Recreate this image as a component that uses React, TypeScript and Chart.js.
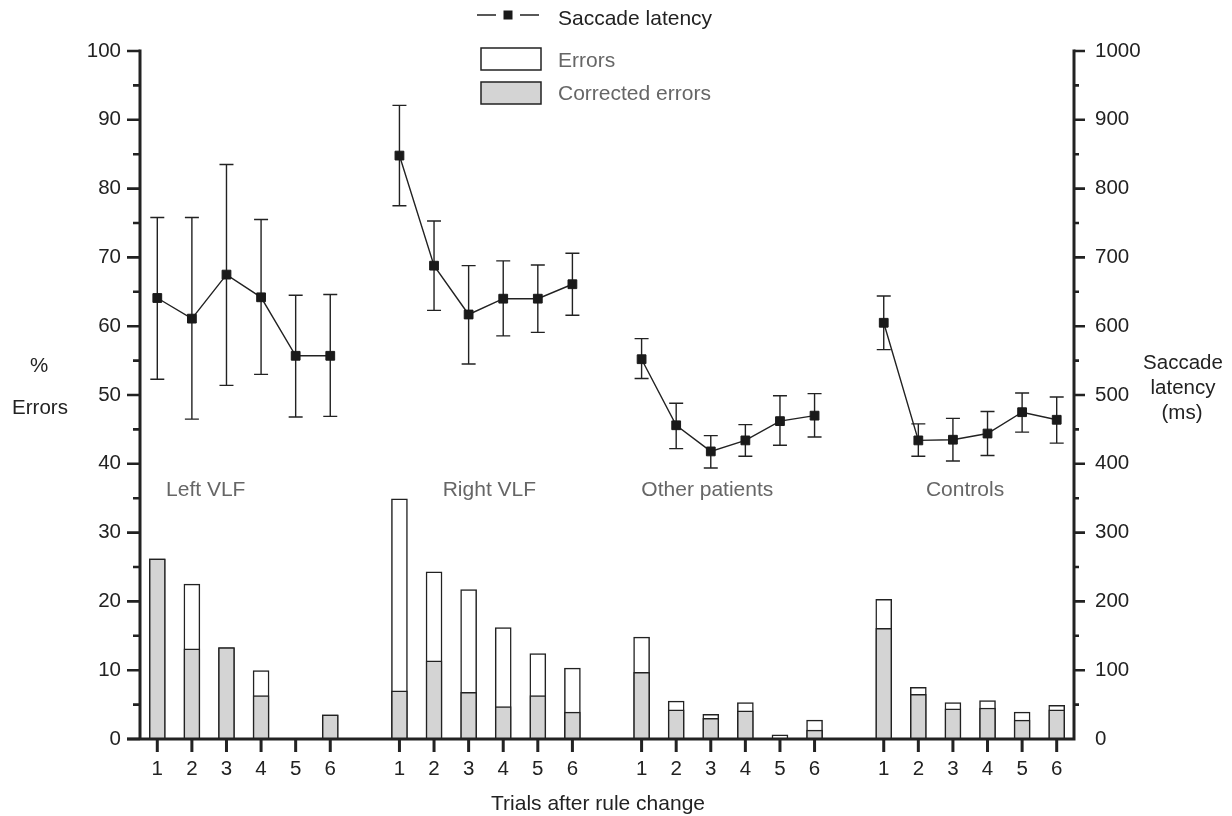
import React, { useEffect, useRef } from 'react';
import { Chart, registerables } from 'chart.js';

Chart.register(...registerables);

// ---- data ----
const groupNames = ['Left VLF', 'Right VLF', 'Other patients', 'Controls'];
const trialLabels = ['1', '2', '3', '4', '5', '6'];

const errorsLeft = [26.2, 22.5, 13.3, 9.95, 0, 3.5];
const errorsRight = [34.9, 24.3, 21.7, 16.2, 12.4, 10.3];
const errorsOther = [14.8, 5.5, 3.6, 5.3, 0.6, 2.75];
const errorsControls = [20.3, 7.5, 5.3, 5.6, 3.9, 4.9];

const correctedLeft = [26.2, 13.1, 13.3, 6.3, 0, 3.5];
const correctedRight = [7.0, 11.35, 6.8, 4.7, 6.3, 3.9];
const correctedOther = [9.7, 4.25, 3.0, 4.1, 0, 1.3];
const correctedControls = [16.1, 6.5, 4.4, 4.5, 2.75, 4.25];

const latencyLeft = [641, 611, 675, 642, 557, 557];
const latencyRight = [848, 688, 617, 640, 640, 661];
const latencyOther = [552, 456, 418, 434, 462, 470];
const latencyControls = [605, 434, 435, 444, 475, 464];

const latencyHighLeft = [758, 758, 835, 755, 645, 646];
const latencyHighRight = [921, 753, 688, 695, 689, 706];
const latencyHighOther = [582, 488, 441, 457, 499, 502];
const latencyHighControls = [644, 458, 466, 476, 503, 497];

const latencyLowLeft = [523, 465, 514, 530, 468, 469];
const latencyLowRight = [775, 623, 545, 586, 591, 616];
const latencyLowOther = [524, 422, 394, 411, 427, 439];
const latencyLowControls = [566, 411, 404, 412, 446, 430];

const leftTicks = [0, 10, 20, 30, 40, 50, 60, 70, 80, 90, 100];
const rightTicks = [0, 100, 200, 300, 400, 500, 600, 700, 800, 900, 1000];

// ---- helpers ----
function joinGroups<T>(groups: T[][], gap: T): T[] {
  const out: T[] = [];
  groups.forEach((g, i) => {
    if (i > 0) out.push(gap);
    out.push(...g);
  });
  return out;
}

const labels = joinGroups([trialLabels, trialLabels, trialLabels, trialLabels], '');
const errorsAll = joinGroups<number | null>([errorsLeft, errorsRight, errorsOther, errorsControls], null);
const correctedAll = joinGroups<number | null>([correctedLeft, correctedRight, correctedOther, correctedControls], null);
const latencyAll = joinGroups<number | null>([latencyLeft, latencyRight, latencyOther, latencyControls], null);
const latencyHighAll = joinGroups<number | null>([latencyHighLeft, latencyHighRight, latencyHighOther, latencyHighControls], null);
const latencyLowAll = joinGroups<number | null>([latencyLowLeft, latencyLowRight, latencyLowOther, latencyLowControls], null);

// annotation placement (category units / % units)
const groupLabelX = [1.4, 9.6, 15.9, 23.35];
const groupLabelY = 36.2;

const FONT = "'Liberation Sans', Arial, Helvetica, sans-serif";
const INK = '#222222';
const GREY_TEXT = '#666666';
const FILL_GREY = '#d4d4d4';

const decorPlugin = {
  id: 'decor',
  beforeDatasetsDraw(chart: any) {
    const ctx = chart.ctx;
    const meta = chart.getDatasetMeta(0);
    const y1 = chart.scales.y1;
    ctx.save();
    ctx.strokeStyle = INK;
    ctx.lineWidth = 1.4;
    meta.data.forEach((pt: any, i: number) => {
      const hi = latencyHighAll[i];
      const lo = latencyLowAll[i];
      if (hi == null || lo == null) return;
      const x = pt.x;
      const yh = y1.getPixelForValue(hi);
      const yl = y1.getPixelForValue(lo);
      ctx.beginPath();
      ctx.moveTo(x, yh);
      ctx.lineTo(x, yl);
      ctx.moveTo(x - 7, yh);
      ctx.lineTo(x + 7, yh);
      ctx.moveTo(x - 7, yl);
      ctx.lineTo(x + 7, yl);
      ctx.stroke();
    });
    ctx.restore();
  },
  afterDraw(chart: any) {
    const ctx = chart.ctx;
    const { left, right, bottom } = chart.chartArea;
    const yS = chart.scales.y;
    const y1S = chart.scales.y1;
    const xS = chart.scales.x;
    ctx.save();
    ctx.strokeStyle = INK;
    ctx.lineCap = 'butt';

    // axis lines
    ctx.lineWidth = 3;
    ctx.beginPath();
    ctx.moveTo(left, yS.getPixelForValue(100) - 1.5);
    ctx.lineTo(left, bottom + 1.5);
    ctx.moveTo(right, y1S.getPixelForValue(1000) - 1.5);
    ctx.lineTo(right, bottom + 1.5);
    ctx.moveTo(left - 13, bottom);
    ctx.lineTo(right, bottom);
    ctx.stroke();

    // y ticks (major & minor)
    ctx.lineWidth = 2.6;
    ctx.beginPath();
    for (let v = 0; v <= 100; v += 5) {
      const y = yS.getPixelForValue(v);
      const len = v % 10 === 0 ? 13 : 7;
      ctx.moveTo(left, y);
      ctx.lineTo(left - len, y);
    }
    for (let v = 50; v <= 1000; v += 50) {
      const y = y1S.getPixelForValue(v);
      const len = v % 100 === 0 ? 11 : 5;
      ctx.moveTo(right, y);
      ctx.lineTo(right + len, y);
    }
    ctx.stroke();

    // x ticks
    ctx.lineWidth = 3;
    ctx.beginPath();
    labels.forEach((l, i) => {
      if (!l) return;
      const x = xS.getPixelForValue(i);
      ctx.moveTo(x, bottom);
      ctx.lineTo(x, bottom + 13);
    });
    ctx.stroke();

    // group labels
    ctx.font = `21px ${FONT}`;
    ctx.fillStyle = GREY_TEXT;
    ctx.textAlign = 'center';
    ctx.textBaseline = 'middle';
    groupNames.forEach((g, i) => {
      ctx.fillText(g, xS.getPixelForValue(groupLabelX[i]), yS.getPixelForValue(groupLabelY));
    });

    // axis titles
    ctx.fillStyle = INK;
    ctx.font = `20.5px ${FONT}`;
    ctx.fillText('%', 39, 366);
    ctx.fillText('Errors', 40, 408);
    ctx.fillText('Saccade', 1183, 363);
    ctx.fillText('latency', 1183, 388);
    ctx.fillText('(ms)', 1182, 413);
    ctx.font = `21px ${FONT}`;
    ctx.fillText('Trials after rule change', 598, 804);

    // legend
    ctx.lineWidth = 1.4;
    ctx.beginPath();
    ctx.moveTo(477, 15);
    ctx.lineTo(496, 15);
    ctx.moveTo(520, 15);
    ctx.lineTo(539, 15);
    ctx.stroke();
    ctx.fillStyle = '#1a1a1a';
    ctx.fillRect(503.5, 10.5, 9, 9);
    ctx.textAlign = 'left';
    ctx.font = `21px ${FONT}`;
    ctx.fillStyle = INK;
    ctx.fillText('Saccade latency', 558, 19);

    ctx.lineWidth = 1.5;
    ctx.fillStyle = '#ffffff';
    ctx.fillRect(481, 48, 60, 22);
    ctx.strokeRect(481, 48, 60, 22);
    ctx.fillStyle = FILL_GREY;
    ctx.fillRect(481, 82, 60, 22);
    ctx.strokeRect(481, 82, 60, 22);
    ctx.fillStyle = GREY_TEXT;
    ctx.fillText('Errors', 558, 61);
    ctx.fillText('Corrected errors', 558, 94);
    ctx.restore();
  },
};

export default function App() {
  const ref = useRef<HTMLCanvasElement | null>(null);
  useEffect(() => {
    if (!ref.current) return;
    Chart.defaults.font.family = FONT;
    const chart = new Chart(ref.current, {
      type: 'bar',
      data: {
        labels,
        datasets: [
          {
            type: 'line',
            label: 'Saccade latency',
            data: latencyAll,
            yAxisID: 'y1',
            borderColor: INK,
            borderWidth: 1.4,
            pointStyle: 'rect',
            pointRadius: 6.2,
            pointBorderWidth: 1,
            pointBackgroundColor: '#1a1a1a',
            pointBorderColor: '#1a1a1a',
            spanGaps: false,
            order: 0,
          } as any,
          {
            type: 'bar',
            label: 'Corrected errors',
            data: correctedAll,
            yAxisID: 'y',
            backgroundColor: FILL_GREY,
            borderColor: INK,
            borderWidth: 1.5,
            barThickness: 16,
            grouped: false,
            order: 1,
          } as any,
          {
            type: 'bar',
            label: 'Errors',
            data: errorsAll,
            yAxisID: 'y',
            backgroundColor: '#ffffff',
            borderColor: INK,
            borderWidth: 1.5,
            barThickness: 16,
            grouped: false,
            order: 2,
          } as any,
        ],
      },
      options: {
        responsive: false,
        animation: false,
        layout: { padding: { top: 51, left: 0, right: 0, bottom: 0 } },
        plugins: { legend: { display: false }, tooltip: { enabled: false } },
        scales: {
          x: {
            type: 'category',
            offset: true,
            grid: { display: false, drawTicks: false },
            border: { display: false },
            ticks: {
              autoSkip: false,
              maxRotation: 0,
              padding: 18,
              color: INK,
              font: { size: 20.5, family: FONT },
            },
            afterFit: (s: any) => { s.height = 77; },
          },
          y: {
            type: 'linear',
            position: 'left',
            min: 0,
            max: 100,
            grid: { display: false, drawTicks: false },
            border: { display: false },
            afterBuildTicks: (s: any) => { s.ticks = leftTicks.map((v) => ({ value: v })); },
            ticks: {
              padding: 19,
              color: INK,
              font: { size: 20.5, family: FONT },
              callback: (v: any) => String(v),
            },
            afterFit: (s: any) => { s.width = 140; },
          },
          y1: {
            type: 'linear',
            position: 'right',
            min: 0,
            max: 1000,
            grid: { display: false, drawTicks: false },
            border: { display: false },
            afterBuildTicks: (s: any) => { s.ticks = rightTicks.map((v) => ({ value: v })); },
            ticks: {
              padding: 21,
              color: INK,
              font: { size: 20.5, family: FONT },
              callback: (v: any) => String(v),
            },
            afterFit: (s: any) => { s.width = 158; },
          },
        },
      },
      plugins: [decorPlugin],
    });
    return () => chart.destroy();
  }, []);
  return (
    <div style={{ position: 'absolute', left: 0, top: 0, width: 1232, height: 816, background: '#fff' }}>
      <canvas ref={ref} width={1232} height={816} style={{ display: 'block' }} />
    </div>
  );
}
